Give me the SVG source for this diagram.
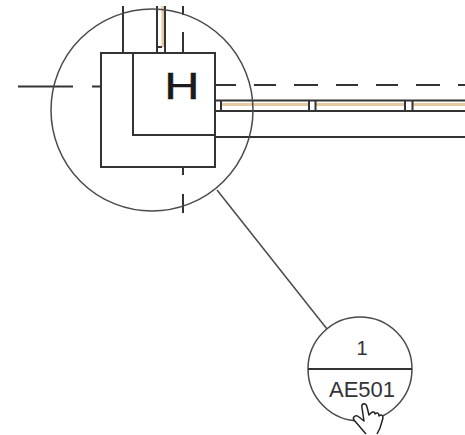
<svg xmlns="http://www.w3.org/2000/svg" width="465" height="435" viewBox="0 0 465 435">
<style>
.w{fill:none;stroke:#333;stroke-width:2}
.c{fill:none;stroke:#4a4a4a;stroke-width:1.5}
.o{fill:none;stroke:#e6c9a0;stroke-width:3}
.t{font-family:"Liberation Sans",Arial,sans-serif;fill:#333;text-anchor:middle}
</style>
<rect width="465" height="435" fill="#fff"/>
<g id="plan">
<path class="o" d="M163 6V47"/>
<path class="o" d="M221 104.500H309M316 104.500H405M413 104.500H465"/>
<g id="walls">
<path class="w" d="M101 53H215V167H101Z"/>
<path class="w" d="M133 53V135H215"/>
<path class="w" d="M215 137H465"/>
<path class="w" d="M215 100.500H465M215 111H465"/>
<path class="w" d="M123 6V53M157 6V53M165 6V53M157 47H162"/>
<path class="w" d="M183 6V15M183 32V53"/>
<path class="w" d="M183 167V175M183 194V213"/>
<path class="w" d="M18 86.500H73M92 86.500H101"/>
<path class="w" d="M215 85H236M254 85H276M294 85H318M336 85H358M376 85H398M416 85H440M458 85H465"/>
<path class="w" d="M221 101V111M309 101V111M315.500 101V111M405 101V111M412.500 101V111"/>
</g>
<circle class="c" cx="152" cy="110" r="101"/>
</g>
<g id="connectors">
<path class="c" d="M217 190L327 329"/>
</g>
<g id="view-tag">
<circle class="c" cx="360" cy="369" r="52"/>
<path class="w" d="M308 369H412"/>
<text class="t" x="362" y="355" font-size="20">1</text>
<text class="t" x="362" y="397" font-size="22">AE501</text>
</g>
<text id="grid-h" class="t" transform="translate(182 99) scale(1.32 1)" font-size="37" style="fill:#1a1a1a;stroke:#1a1a1a;stroke-width:.4">H</text>
<g id="cursor">
<path fill="#fff" stroke="#222" stroke-width="1.500" stroke-linejoin="round" d="M366 434L354 420C352 417 356 414 359 417L364 421L362 408C361 403 366 402 367 407L369 415L371 413C373 411 375 412 375 414C377 412 379 413 379 416C381 414 383 415 383 418L380 428L377 434"/>
</g>
</svg>
